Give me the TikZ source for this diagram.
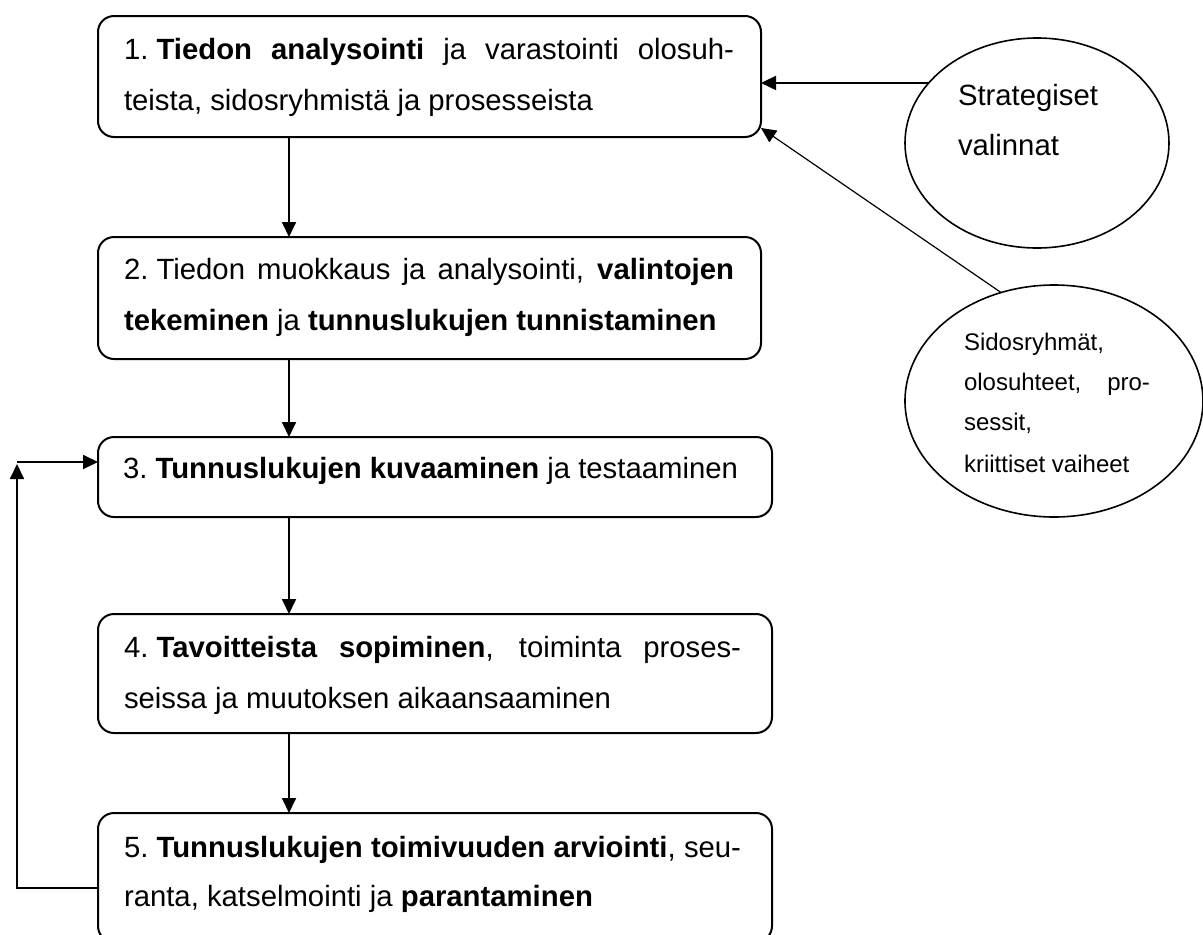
\documentclass[tikz,border=0pt]{standalone}
\usepackage{fontspec}
\setmainfont{Liberation Sans}
\usetikzlibrary{arrows.meta,shapes.geometric}
\newcommand\boxfont{\fontsize{29.3}{51}\selectfont}
\newcommand\smallfont{\fontsize{24}{40}\selectfont}
\newcommand\numsp{\kern0.278em}
\begin{document}
\begin{tikzpicture}[x=1pt,y=-1pt,
  stepbox/.style={draw,line width=2pt,rounded corners=16pt,inner sep=0pt,outer sep=0pt},
  oval/.style={draw,ellipse,line width=1.6pt,inner sep=0pt,outer sep=0pt},
  txt/.style={anchor=base west,inner sep=0pt,outer sep=0pt,font=\boxfont},
  stxt/.style={anchor=base west,inner sep=0pt,outer sep=0pt,font=\smallfont},
  arr/.style={line width=1.8pt,-{Triangle[length=15pt,width=14pt]}},
  thinarr/.style={line width=1.2pt,-{Triangle[length=15pt,width=14pt]}}]
\useasboundingbox (0,0) rectangle (1203,935);
% boxes
\node[stepbox,minimum width=663pt,minimum height=121pt] (b1) at (429.5,76.5) {};
\node[stepbox,minimum width=663pt,minimum height=122pt] (b2) at (429.5,298) {};
\node[stepbox,minimum width=674pt,minimum height=80pt] (b3) at (435,477) {};
\node[stepbox,minimum width=674pt,minimum height=119pt] (b4) at (435,673.5) {};
\node[stepbox,minimum width=674pt,minimum height=129pt] (b5) at (435,877.5) {};
% ellipses
\node[oval,minimum width=264pt,minimum height=210pt] (e1) at (1037,143) {};
\node[oval,minimum width=298pt,minimum height=232pt] (e2) at (1054,401) {};
% texts
\node[txt] (t1a) at (124,59) {\makebox[610pt][s]{1.\numsp\textbf{Tiedon analysointi} ja varastointi olosuh-}};
\node[txt] (t1b) at (124,110) {teista, sidosryhmistä ja prosesseista};
\node[txt] (t2a) at (124,279) {\makebox[610pt][s]{2.\numsp Tiedon muokkaus ja analysointi, \textbf{valintojen}}};
\node[txt] (t2b) at (124,330) {\textbf{tekeminen} ja \textbf{tunnuslukujen tunnistaminen}};
\node[txt] (t3) at (123,478) {3.\numsp\textbf{Tunnuslukujen kuvaaminen} ja testaaminen};
\node[txt] (t4a) at (124,657) {\makebox[617pt][s]{4.\numsp\textbf{Tavoitteista sopiminen}, toiminta proses-}};
\node[txt] (t4b) at (124,708) {seissa ja muutoksen aikaansaaminen};
\node[txt] (t5a) at (124,857) {\makebox[617pt][s]{5.\numsp\textbf{Tunnuslukujen toimivuuden arviointi}, seu-}};
\node[txt] (t5b) at (124,906) {ranta, katselmointi ja \textbf{parantaminen}};
\node[txt] (s1) at (958,105) {Strategiset};
\node[txt] (s2) at (958,155) {valinnat};
\node[stxt] (p1) at (964,350) {Sidosryhmät,};
\node[stxt] (p2) at (964,390) {\makebox[186pt][s]{olosuhteet, pro-}};
\node[stxt] (p3) at (964,430) {sessit,};
\node[stxt] (p4) at (964,472) {kriittiset vaiheet};
% connectors
\draw[arr] ([xshift=191pt]b1.south west) -- ([xshift=191pt]b2.north west);
\draw[arr] ([xshift=191pt]b2.south west) -- ([xshift=191pt]b3.north west);
\draw[arr] ([xshift=191pt]b3.south west) -- ([xshift=191pt]b4.north west);
\draw[arr] ([xshift=191pt]b4.south west) -- ([xshift=191pt]b5.north west);
\draw[arr] (e1.151) -- (e1.151 -| b1.east);
\draw[thinarr] (e2.116) -- ([yshift=9pt]b1.south east);
\coordinate (fb) at (17,462);
\draw[arr] ([yshift=-10.5pt]b5.west) -| ([yshift=-2pt]fb);
\draw[arr] (fb) -- (fb -| b3.west);
\end{tikzpicture}
\end{document}
